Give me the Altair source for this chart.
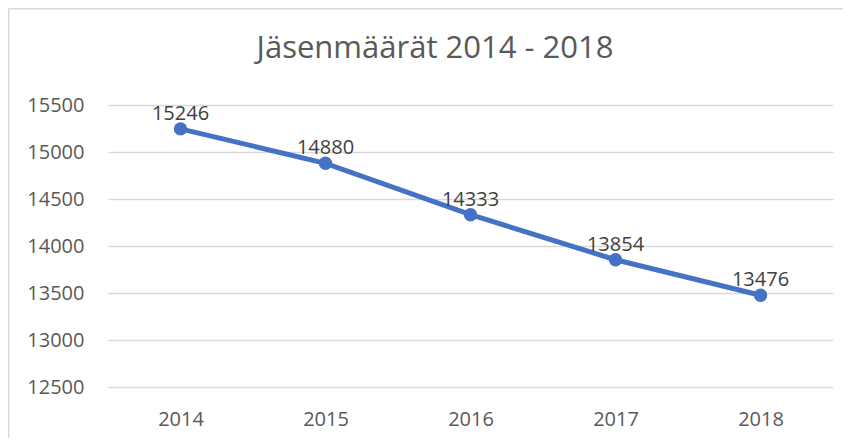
import altair as alt
import pandas as pd

years = ["2014", "2015", "2016", "2017", "2018"]
members = [15246, 14880, 14333, 13854, 13476]
title_text = "Jäsenmäärät 2014 - 2018"
y_ticks = [12500, 13000, 13500, 14000, 14500, 15000, 15500]

df = pd.DataFrame({"year": years, "members": members})

W, H = 725, 282
PL, PT, PR, PB = 100, 97, 10, 51
FONT = "Open Sans"
BLUE = "#4472C4"

x_enc = alt.X("year:O", scale=alt.Scale(type="point", padding=0.5),
              axis=alt.Axis(title=None, labelAngle=0, domain=False, ticks=False,
                            labelFont=FONT, labelFontSize=20, labelColor="#595959",
                            labelPadding=22, grid=False))
y_enc = alt.Y("members:Q", scale=alt.Scale(domain=[12500, 15500], nice=False, zero=False),
              axis=alt.Axis(title=None, values=y_ticks, format="d", domain=False, ticks=False,
                            labelFont=FONT, labelFontSize=20, labelColor="#595959",
                            labelPadding=24, grid=True, gridColor="#D9D9D9", gridWidth=1.3))

base = alt.Chart(df)

line = base.mark_line(color=BLUE, strokeWidth=5).encode(x=x_enc, y=y_enc)
points = base.mark_point(filled=True, color=BLUE, size=180, opacity=1).encode(x=x_enc, y=y_enc)
labels = base.mark_text(font=FONT, fontSize=20, color="#404040", baseline="alphabetic",
                        dy=-9).encode(x=x_enc, y=y_enc, text=alt.Text("members:Q", format="d"))

title = alt.Chart(pd.DataFrame({"t": [title_text]})).mark_text(
    font=FONT, fontSize=31, fontWeight="normal", color="#595959", baseline="middle", align="center"
).encode(x=alt.value(327), y=alt.value(-56), text="t:N")

frame_left = alt.Chart(pd.DataFrame({"a": [0]})).mark_rule(color="#D9D9D9", strokeWidth=1.5).encode(
    x=alt.value(-99.3), y=alt.value(-96.5), y2=alt.value(H + PB))
frame_top = alt.Chart(pd.DataFrame({"a": [0]})).mark_rule(color="#D9D9D9", strokeWidth=1.5).encode(
    x=alt.value(-99.3), x2=alt.value(W + PR), y=alt.value(-96.3))

chart = alt.layer(frame_left, frame_top, title, line, points, labels).properties(
    width=W, height=H,
    autosize=alt.AutoSizeParams(type="none"),
    padding={"left": PL, "top": PT, "right": PR, "bottom": PB},
).configure_view(stroke=None)

chart.save("out.html", embed_options={"renderer": "svg", "actions": False})
